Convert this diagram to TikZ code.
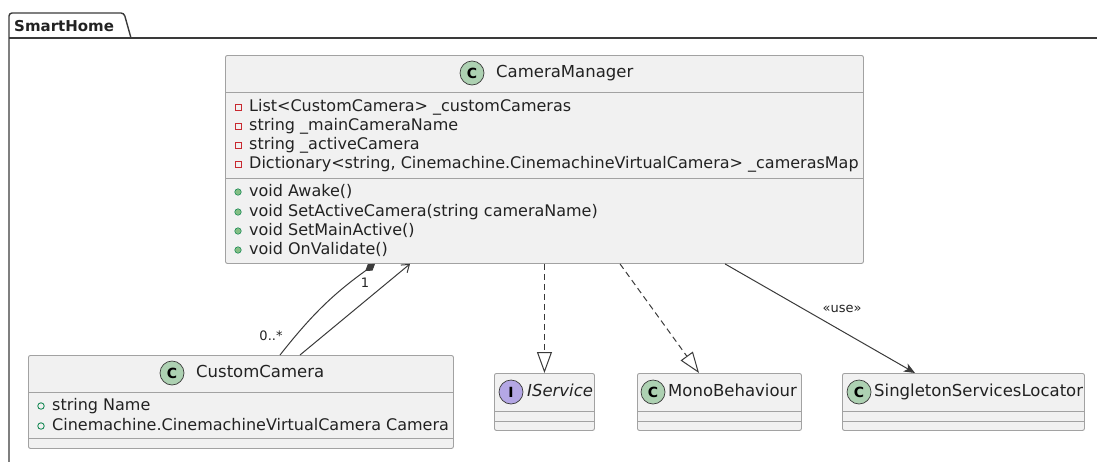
\documentclass[tikz,border=0pt]{standalone}
\usepackage{fontspec}
\setmainfont{DejaVu Sans}
\usetikzlibrary{arrows.meta,calc}
\definecolor{boxc}{HTML}{F1F1F1}
\definecolor{bordc}{HTML}{A2A2A2}
\definecolor{greenc}{HTML}{ADD1B2}
\definecolor{purpc}{HTML}{B4A7E5}
\definecolor{linec}{HTML}{3A3A3A}
\definecolor{txtc}{HTML}{222222}
\definecolor{privc}{HTML}{C82930}
\definecolor{pubf}{HTML}{84BE84}
\definecolor{pubd}{HTML}{038048}
\begin{document}
\begin{tikzpicture}[x=1pt,y=-1pt,
  cls/.style={draw=bordc, fill=boxc, rounded corners=2pt, line width=0.9pt, anchor=north west, inner sep=0},
  sep/.style={draw=bordc, line width=0.9pt},
  circ/.style={circle, draw=linec, line width=0.7pt, minimum size=24pt, inner sep=0, font=\fontsize{14}{14}\selectfont\bfseries},
  ttl/.style={anchor=west, inner sep=0, text height=12pt, text depth=3pt, text=txtc, font=\fontsize{16.5}{19}\selectfont},
  mem/.style={anchor=west, inner sep=0, text height=12pt, text depth=3pt, text=txtc, font=\fontsize{16}{19}\selectfont},
  privm/.style={draw=privc, line width=0.8pt, minimum size=6pt, inner sep=0},
  pubm/.style={circle, fill=pubf, draw=pubd, line width=0.5pt, minimum size=6.5pt, inner sep=0},
  pubfm/.style={circle, draw=pubd, line width=0.8pt, minimum size=6.5pt, inner sep=0},
  conn/.style={draw=linec, line width=1pt},
  lbl/.style={inner sep=0, text=txtc, font=\fontsize{13}{13}\selectfont}
]
\useasboundingbox (0,0) rectangle (1097,461);
\clip (0,0) rectangle (1097,461);
% package frame
\draw[linec, line width=1.4pt, rounded corners=3pt] (9,470) -- (9,13) -- (124,13) -- (131,38);
\draw[linec, line width=1.4pt] (9,38) -- (1110,38);
\node[anchor=west, inner sep=0, font=\fontsize{15}{15}\selectfont\bfseries, text=txtc] (pkg) at (14,26) {SmartHome};

% CameraManager
\node[cls, minimum width=638pt, minimum height=208pt] (cm) at (225,55) {};
\draw[sep] (225,92) -- (863,92);
\draw[sep] (225,178) -- (863,178);
\node[circ, fill=greenc] (cmC) at (472,73) {C};
\node[ttl] (cmT) at (496,73) {CameraManager};
\node[privm] (cmp1) at (238,107) {};
\node[privm] (cmp2) at (238,126) {};
\node[privm] (cmp3) at (238,145) {};
\node[privm] (cmp4) at (238,164) {};
\node[mem] (cma1) at (249,107) {List<CustomCamera> \_customCameras};
\node[mem] (cma2) at (249,126) {string \_mainCameraName};
\node[mem] (cma3) at (249,145) {string \_activeCamera};
\node[mem] (cma4) at (249,164) {Dictionary<string, Cinemachine.CinemachineVirtualCamera> \_camerasMap};
\node[pubm] (cmq1) at (238,192) {};
\node[pubm] (cmq2) at (238,212) {};
\node[pubm] (cmq3) at (238,231) {};
\node[pubm] (cmq4) at (238,250) {};
\node[mem] (cmm1) at (249,192) {void Awake()};
\node[mem] (cmm2) at (249,212) {void SetActiveCamera(string cameraName)};
\node[mem] (cmm3) at (249,231) {void SetMainActive()};
\node[mem] (cmm4) at (249,250) {void OnValidate()};

% CustomCamera
\node[cls, minimum width=425pt, minimum height=93pt] (cc) at (28,355) {};
\draw[sep] (28,392) -- (453,392);
\draw[sep] (28,438) -- (453,438);
\node[circ, fill=greenc] (ccC) at (172,373) {C};
\node[ttl] (ccT) at (196,373) {CustomCamera};
\node[pubfm] (ccp1) at (41,406) {};
\node[pubfm] (ccp2) at (41,426) {};
\node[mem] (cca1) at (52,406) {string Name};
\node[mem] (cca2) at (52,426) {Cinemachine.CinemachineVirtualCamera Camera};

% IService
\node[cls, minimum width=100pt, minimum height=57pt] (isv) at (494,373) {};
\draw[sep] (494,411) -- (594,411);
\draw[sep] (494,421) -- (594,421);
\node[circ, fill=purpc] (isvC) at (511,392) {I};
\node[ttl, font=\fontsize{16.5}{19}\selectfont\itshape] (isvT) at (527,392) {IService};

% MonoBehaviour
\node[cls, minimum width=164pt, minimum height=57pt] (mono) at (637,373) {};
\draw[sep] (637,411) -- (801,411);
\draw[sep] (637,421) -- (801,421);
\node[circ, fill=greenc] (monoC) at (653,392) {C};
\node[ttl] (monoT) at (668,392) {MonoBehaviour};

% SingletonServicesLocator
\node[cls, minimum width=242pt, minimum height=57pt] (ssl) at (842,373) {};
\draw[sep] (842,411) -- (1084,411);
\draw[sep] (842,421) -- (1084,421);
\node[circ, fill=greenc] (sslC) at (859,392) {C};
\node[ttl] (sslT) at (874,392) {SingletonServicesLocator};

% connectors
\draw[conn, {Diamond[length=12pt,width=8pt]}-] ($(cm.south west)+(150,0)$) to[bend right=8] ($(cc.north west)+(252,0)$);
\draw[conn, -{Straight Barb[length=7pt,width=10pt]}] ($(cc.north west)+(272,0)$) -- ($(cm.south west)+(185,0)$);
\node[lbl] (m1) at (365,283) {1};
\node[lbl] (m2) at (271,336) {0..*};

\draw[conn, dashed, dash pattern=on 6pt off 4pt, -{Triangle[length=21pt,width=15pt,fill=white]}] (isv.north |- cm.south) -- (isv.north);
\draw[conn, dashed, dash pattern=on 6pt off 4pt, -{Triangle[length=21pt,width=15pt,fill=white]}] ($(cm.south west)+(395,0)$) -- ($(mono.north west)+(62,0)$);
\draw[conn, -{Stealth[length=11pt,width=9pt,inset=3pt]}] ($(cm.south west)+(500,0)$) -- ($(ssl.north west)+(73,0)$);
\node[lbl] (use) at (842,309) {«use»};
\end{tikzpicture}
\end{document}
